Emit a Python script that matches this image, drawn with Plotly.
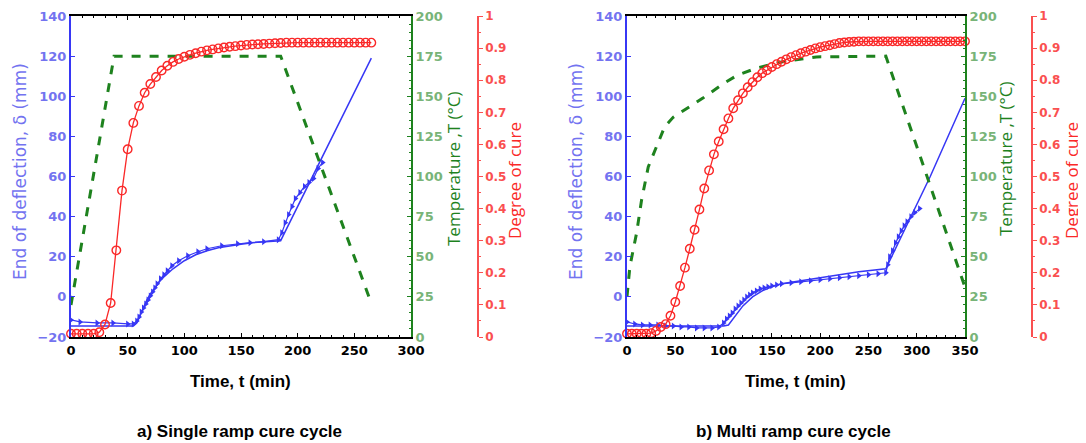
import plotly.graph_objects as go

# ---------------- Panel a) Single ramp cure cycle ----------------
a_cure_t = list(range(0, 270, 5))
a_cure = [0.01, 0.01, 0.01, 0.01, 0.01, 0.015, 0.039, 0.106, 0.27, 0.456,
          0.585, 0.667, 0.72, 0.761, 0.788, 0.81, 0.83, 0.845, 0.857, 0.866,
          0.873, 0.879, 0.884, 0.889, 0.893, 0.896, 0.899, 0.902, 0.904, 0.906,
          0.908, 0.91, 0.911, 0.912, 0.913, 0.914, 0.915, 0.916, 0.917, 0.917,
          0.917, 0.917, 0.917, 0.917, 0.917, 0.917, 0.917, 0.917, 0.917, 0.917,
          0.917, 0.917, 0.917, 0.917]

a_temp_t = [0, 38, 185, 265]
a_temp = [20, 175, 175, 21]

a_sim_t = [0, 55, 58, 61, 64, 67, 70, 75, 80, 90, 100, 110, 120, 130, 140,
           150, 160, 170, 185, 265]
a_sim = [-14.5, -14.5, -13, -9, -5, -1.5, 1.5, 5.5, 9, 14, 18, 21, 23, 24.5,
         25.5, 26.2, 27, 27.5, 28, 119]

a_exp_t = [0, 8, 23, 37, 50, 55, 58, 60, 62, 64, 66, 68, 70, 72, 74, 76, 79,
           82, 85, 89, 95, 103, 112, 120, 133, 147, 158, 170, 183, 186, 189,
           192, 195, 198, 202, 206, 210, 214, 218, 222]
a_exp = [-11.5, -12.5, -13, -13, -13.5, -13.5, -12, -10, -7.5, -5.5, -3.5,
         -1.5, 0.5, 2.5, 4.5, 6.5, 9, 11, 13, 15.5, 18, 20.5, 22.5, 24, 25.5,
         26.5, 27, 27.5, 28.5, 32, 37, 41, 45, 49, 52, 55, 57, 59, 64, 67]

# ---------------- Panel b) Multi ramp cure cycle ----------------
b_cure_t = list(range(0, 355, 5))
b_cure = [0.01, 0.01, 0.01, 0.01, 0.01, 0.012, 0.019, 0.031, 0.04, 0.066,
          0.109, 0.159, 0.216, 0.275, 0.334, 0.397, 0.4625, 0.519, 0.569, 0.609,
          0.647, 0.681, 0.7125, 0.7375, 0.759, 0.778, 0.794, 0.809, 0.822, 0.831,
          0.841, 0.85, 0.8575, 0.865, 0.872, 0.878, 0.884, 0.889, 0.894, 0.899,
          0.903, 0.906, 0.909, 0.9125, 0.916, 0.9175, 0.919, 0.92, 0.921, 0.921,
          0.921, 0.921, 0.921, 0.921, 0.921, 0.921, 0.921, 0.921, 0.921, 0.921,
          0.921, 0.921, 0.921, 0.921, 0.921, 0.921, 0.921, 0.921, 0.921, 0.921,
          0.921]

b_temp_t = [0, 3, 10, 15, 22, 31, 39, 48, 62, 79, 100, 114, 134, 162, 196,
            268, 350]
b_temp = [25, 44, 65, 85, 106, 119, 131, 137, 142.5, 149, 158, 163, 167.5,
          171.6, 174.5, 175, 31]

b_sim_t = [0, 100, 105, 110, 115, 120, 130, 140, 150, 160, 180, 200, 220,
           240, 268, 314, 350]
b_sim = [-14.5, -14.5, -14, -11, -7.5, -4.5, 0, 3, 5, 6.5, 8, 9.5, 11, 12.5,
         14, 60, 99]

b_exp_t = [0, 8, 16, 24, 32, 40, 48, 56, 64, 72, 80, 88, 95, 100, 103, 106,
           109, 112, 115, 118, 121, 124, 127, 130, 134, 138, 142, 146, 150,
           155, 160, 170, 180, 190, 200, 210, 220, 230, 240, 250, 260, 268,
           270, 272, 275, 278, 281, 284, 287, 290, 294, 298, 303]
b_exp = [-12.5, -13.5, -14, -14, -14, -14.5, -14.5, -15, -15, -15.5, -15.5,
         -15.5, -15, -13, -11, -9.5, -8, -6, -4.5, -3, -1.5, 0, 1, 2, 3, 4,
         4.5, 5, 5.5, 6, 6.5, 7, 7.5, 8, 8.5, 9, 9.5, 10, 10.5, 11, 11.5, 12,
         16, 20, 23, 27, 30, 33, 35.5, 37.5, 40, 42, 44]

defl_ticks = list(range(-20, 141, 20))
temp_ticks = list(range(0, 201, 25))
cure_ticks = [round(i * 0.1, 1) for i in range(11)]

BLUE = "rgb(55,55,245)"
BLUE_T = "rgb(115,115,240)"
GREEN = "rgb(30,130,30)"
GREEN_T = "rgb(120,180,120)"
RED = "rgb(250,40,40)"
RED_T = "rgb(250,80,80)"

# page body has an 8px margin: figure is placed at (8, 8)
OFF = 8
W, H = 1078, 435
def px(x):
    return (x - OFF) / W
def py(y):
    return 1 - (y - OFF) / H

Y_DOM = [py(337), py(16)]
panels = [
    dict(xd=[px(71), px(411)], rpos=px(478), xr=[0, 300],
         cure_t=a_cure_t, cure=a_cure, temp_t=a_temp_t, temp=a_temp,
         sim_t=a_sim_t, sim=a_sim, exp_t=a_exp_t, exp=a_exp),
    dict(xd=[px(627), px(965)], rpos=px(1032), xr=[0, 350],
         cure_t=b_cure_t, cure=b_cure, temp_t=b_temp_t, temp=b_temp,
         sim_t=b_sim_t, sim=b_sim, exp_t=b_exp_t, exp=b_exp),
]

fig = go.Figure()
layout = {}
tickfont_b = dict(family="DejaVu Sans", size=12, weight="bold")

for i, p in enumerate(panels):
    xn = i + 1
    yb = 3 * i + 1
    xs = "x" if xn == 1 else f"x{xn}"
    ys = lambda k: "y" if k == 1 else f"y{k}"

    fig.add_trace(go.Scatter(x=p["temp_t"], y=p["temp"], mode="lines",
                             line=dict(color=GREEN, width=3, dash="dash"),
                             xaxis=xs, yaxis=ys(yb + 1), showlegend=False))
    fig.add_trace(go.Scatter(x=p["sim_t"], y=p["sim"], mode="lines",
                             line=dict(color=BLUE, width=1.5),
                             xaxis=xs, yaxis=ys(yb), showlegend=False))
    fig.add_trace(go.Scatter(x=p["exp_t"], y=p["exp"], mode="lines+markers",
                             line=dict(color=BLUE, width=1.2),
                             marker=dict(symbol="triangle-right", size=6,
                                         color=BLUE),
                             xaxis=xs, yaxis=ys(yb), showlegend=False))
    fig.add_trace(go.Scatter(x=p["cure_t"], y=p["cure"], mode="lines+markers",
                             line=dict(color=RED, width=1.3),
                             marker=dict(symbol="circle-open", size=8.5,
                                         color=RED, line=dict(width=1.4)),
                             xaxis=xs, yaxis=ys(yb + 2), showlegend=False,
                             cliponaxis=False))

    xkey = "xaxis" if xn == 1 else f"xaxis{xn}"
    layout[xkey] = dict(domain=p["xd"], anchor=ys(yb), range=p["xr"],
                        dtick=50, showline=True, linecolor="black",
                        linewidth=2, mirror="ticks", ticks="inside",
                        ticklen=4, tickcolor="black", showgrid=False,
                        zeroline=False, automargin=False,
                        tickfont=dict(tickfont_b, size=13, color="black"),
                        minor=dict(ticks="inside", ticklen=2, dtick=10,
                                   tickcolor="black"))
    ykey = lambda k: "yaxis" if k == 1 else f"yaxis{k}"
    layout[ykey(yb)] = dict(domain=Y_DOM, anchor=xs, range=[-20, 140],
                            tickvals=defl_ticks, showline=True,
                            linecolor=BLUE, linewidth=2, ticks="inside",
                            ticklen=4, tickcolor=BLUE, showgrid=False,
                            zeroline=False, automargin=False,
                            tickfont=dict(tickfont_b, size=13, color=BLUE_T))
    layout[ykey(yb + 1)] = dict(domain=Y_DOM, anchor=xs, overlaying=ys(yb),
                                side="right", range=[0, 200],
                                tickvals=temp_ticks, showline=True,
                                linecolor=GREEN, linewidth=2, ticks="inside",
                                ticklen=4, tickcolor=GREEN, showgrid=False,
                                zeroline=False, automargin=False,
                                tickfont=dict(tickfont_b, size=13, color=GREEN_T),
                                minor=dict(ticks="inside", ticklen=2, dtick=5,
                                           tickcolor=GREEN))
    layout[ykey(yb + 2)] = dict(domain=Y_DOM, anchor="free",
                                overlaying=ys(yb), side="right",
                                position=p["rpos"], range=[0, 1],
                                tickvals=cure_ticks, showline=True,
                                linecolor=RED_T, linewidth=1.5, ticks="outside",
                                ticklen=4, tickcolor=RED_T, showgrid=False,
                                zeroline=False, automargin=False,
                                tickfont=dict(family="DejaVu Sans", size=12,
                                              color=RED_T, weight="bold"),
                                minor=dict(ticks="outside", ticklen=2,
                                           dtick=0.05, tickcolor=RED_T))

ann = []
def add_text(x, y, text, color, size, angle=0, bold=False, family="Open Sans"):
    ann.append(dict(x=px(x), y=py(y), xref="paper", yref="paper", text=text,
                    showarrow=False, textangle=angle,
                    font=dict(family=family, size=size, color=color,
                              weight="bold" if bold else "normal"),
                    xanchor="center", yanchor="middle"))

add_text(20, 172, "End of deflection, δ (mm)", BLUE_T, 17, -90, family="DejaVu Sans")
add_text(454, 169, "Temperature ,T (°C)", GREEN, 17, -90)
add_text(514, 181, "Degree of cure", RED, 17, -90)
add_text(576, 172, "End of deflection, δ (mm)", BLUE_T, 17, -90, family="DejaVu Sans")
add_text(1006, 159, "Temperature ,T (°C)", GREEN, 17, -90)
add_text(1071, 181, "Degree of cure", RED, 17, -90)
add_text(240, 381, "Time, t (min)", "black", 17, bold=True, family="Liberation Sans")
add_text(795, 381, "Time, t (min)", "black", 17, bold=True, family="Liberation Sans")
add_text(239, 431, "a) Single ramp cure cycle", "black", 17, bold=True, family="Liberation Sans")
add_text(793, 431, "b) Multi ramp cure cycle", "black", 17, bold=True, family="Liberation Sans")

fig.update_layout(width=W, height=H, margin=dict(l=0, r=0, t=0, b=0),
                  paper_bgcolor="white", plot_bgcolor="white",
                  annotations=ann, **layout)

fig.write_html("out.html")
